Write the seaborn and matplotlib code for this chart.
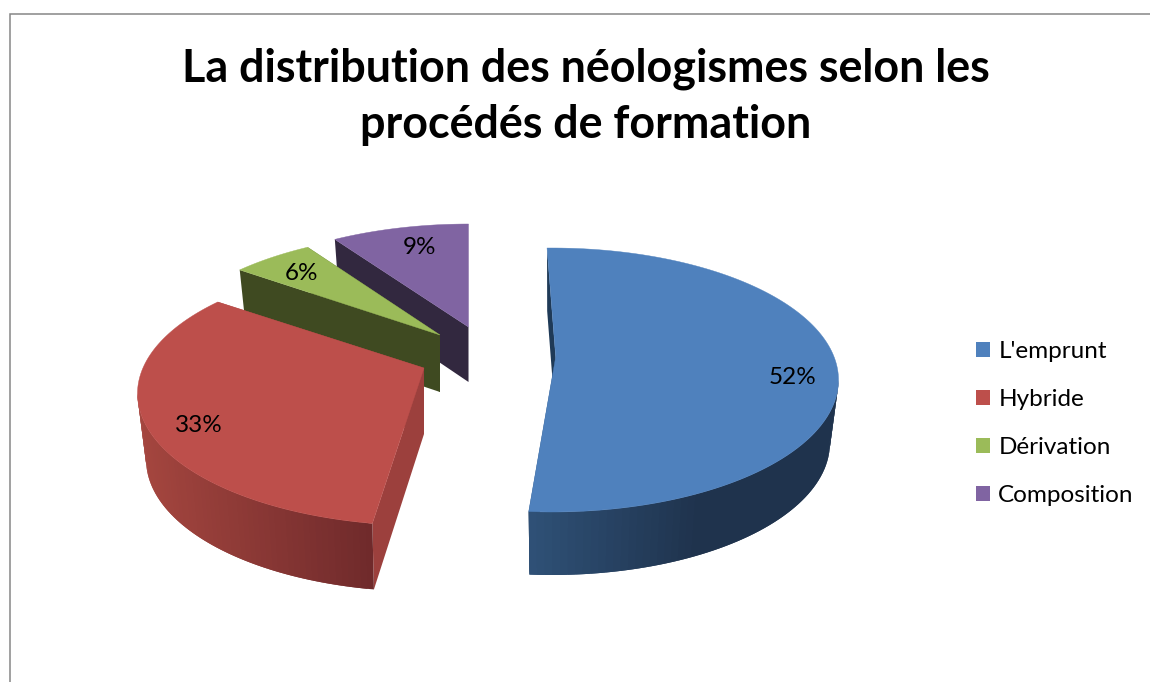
import numpy as np
import matplotlib
matplotlib.use("Agg")
import matplotlib.pyplot as plt
from matplotlib.patches import Patch
import seaborn as sns

# --- data
categories = ["L'emprunt", "Hybride", "Dérivation", "Composition"]
shares = [52, 33, 6, 9]
title = "La distribution des néologismes selon les\nprocédés de formation"

# --- styles and projected geometry of the exploded slices (pixels)
top_colors = ["#4f81bd", "#bd4f4b", "#9bbb59", "#8064a2"]
side_colors = ["#1f3a57", "#9c403d", "#3f4a21", "#32283f"]
wall_left = ["#2f5177", "#a5463f", "#3f4a21", "#32283f"]
wall_right = ["#1f334d", "#6f2a2b", "#3f4a21", "#32283f"]
centers = [(552, 380), (424, 393.6), (440, 364.3), (469, 356)]
apexes = [(555.7, 357), (424, 368), (440, 335), (468.5, 327)]
depths = [63, 66, 57, 55]
skew = [(1.1, 1.6), (-2.5, 0.2), (-0.2, 1.4), (1.7, -1.0)]
label_pos = [(793, 377), (199, 426), (301, 273), (419, 248)]
RX, RY = 286.5, 132.0
SHRINK = 0.97
START = 91.0

sns.set_theme(style="white")
plt.rcParams["font.family"] = ["Lato", "DejaVu Sans"]

fig = plt.figure(figsize=(11.5, 6.82), dpi=100)
ax = fig.add_axes([0, 0, 1, 1])
ax.set_xlim(0, 1150)
ax.set_ylim(682, 0)
ax.axis("off")

ax.plot([1150, 10, 10], [14, 14, 682], color="#868686", lw=1.1, solid_joinstyle="miter")


def ray_param(angle, a):
    """Parameter angle on the unit rim of a ray leaving the apex a."""
    d = np.array([np.cos(np.radians(angle)), np.sin(np.radians(angle))])
    b = a @ d
    s = -b + np.sqrt(b * b - (a @ a - 1))
    p = a + s * d
    return np.degrees(np.arctan2(p[1], p[0]))


def rim(c, t, depth=0.0, scale=1.0):
    t = np.radians(t)
    return c[0] + RX * scale * np.cos(t), c[1] + depth - RY * np.sin(t)


bounds = START - np.cumsum([0] + [s / sum(shares) * 360 for s in shares])
order = [3, 2, 1, 0]
for i in order:
    c, ap, dp = centers[i], apexes[i], depths[i]
    a = np.array([(ap[0] - c[0]) / RX, (c[1] - ap[1]) / RY])
    t1 = ray_param(bounds[i] + skew[i][0], a)
    t2 = ray_param(bounds[i + 1] + skew[i][1], a)
    while t2 > t1:
        t2 -= 360
    lap = (c[0] + (ap[0] - c[0]) * SHRINK, ap[1] + dp)

    # straight cut faces
    for t in (t1, t2):
        ux, uy = rim(c, t)
        lx, ly = rim(c, t, dp, SHRINK)
        ax.fill([ux, ap[0], lap[0], lx], [uy, ap[1], lap[1], ly],
                color=side_colors[i], lw=0, zorder=10 + 2 * (3 - i))

    # curved outer wall, shaded strip by strip; each strip runs under the next
    lo, hi = max(t2, -180.0), min(t1, 0.0)
    if hi > lo:
        ts = np.linspace(hi, lo, 61)
        cl = np.array(matplotlib.colors.to_rgb(wall_left[i]))
        cr = np.array(matplotlib.colors.to_rgb(wall_right[i]))
        xs = rim(c, ts)[0]
        full = 0.55 if i == 0 else 1.0
        for k in range(len(ts) - 1):
            seg = np.linspace(ts[k], ts[min(k + 2, len(ts) - 1)], 5)
            ux, uy = rim(c, seg)
            lx, ly = rim(c, seg, dp, SHRINK)
            f = (rim(c, ts[k:k + 2])[0].mean() - xs.min()) / (xs.max() - xs.min())
            col = cl + (cr - cl) * min(f / full, 1.0)
            ax.fill(np.r_[ux, lx[::-1]], np.r_[uy, ly[::-1]],
                    color=col, lw=0, zorder=10 + 2 * (3 - i))

    # top face
    arc = np.linspace(t1, t2, 200)
    x, y = rim(c, arc)
    ax.fill(np.r_[ap[0], x], np.r_[ap[1], y], color=top_colors[i], lw=0.3,
            zorder=11 + 2 * (3 - i))

for s, (x, y) in zip(shares, label_pos):
    ax.text(x, y, f"{s}%", ha="center", va="center", fontsize=17.5, color="black", zorder=30)

ax.text(586, 97, title, ha="center", va="center", fontsize=32.3, fontweight="bold",
        color="black", linespacing=1.42, zorder=30)

handles = [Patch(facecolor=col, edgecolor="none", label=n) for col, n in zip(top_colors, categories)]
ax.legend(handles=handles, loc="center left", bbox_to_anchor=(976 / 1150, 1 - 423.5 / 682),
          frameon=False, fontsize=17.5, labelspacing=1.115, handlelength=0.58, handleheight=0.58,
          handletextpad=0.34, labelcolor="black", borderpad=0, borderaxespad=0)

fig.savefig("out.png", dpi=100)
